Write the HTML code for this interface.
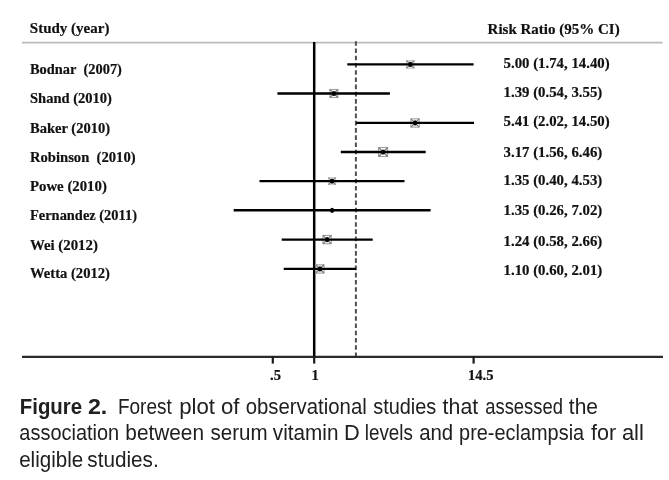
<!DOCTYPE html>
<html>
<head>
<meta charset="utf-8">
<style>
html,body{margin:0;padding:0;background:#fff;}
body{width:669px;height:480px;overflow:hidden;position:relative;}
svg{position:absolute;left:0;top:0;filter:grayscale(1);}
.t{font-family:"Liberation Serif",serif;font-weight:bold;font-size:14.8px;fill:#111;stroke:#111;stroke-width:0.2px;}
.h{font-size:15px;}
.ax{font-size:14.6px;}
.cap{font-family:"Liberation Sans",sans-serif;font-size:21.5px;fill:#202024;}
</style>
</head>
<body>
<svg width="669" height="480" viewBox="0 0 669 480">
<text class="t h" x="29.8" y="32.9">Study (year)</text>
<text class="t h" x="487.6" y="34">Risk Ratio (95% CI)</text>
<line x1="22" y1="42.6" x2="662.5" y2="42.6" stroke="#bababa" stroke-width="1.7"/>
<line x1="314.2" y1="42" x2="314.2" y2="357" stroke="#000" stroke-width="2.5"/>
<line x1="355.9" y1="41.2" x2="355.9" y2="356" stroke="#505050" stroke-width="2" stroke-dasharray="4.6 2.637"/>
<line x1="22" y1="356.8" x2="663" y2="356.8" stroke="#2a2a2a" stroke-width="2.2"/>
<g stroke="#1a1a1a" stroke-width="2.2">
<line x1="272.8" y1="356" x2="272.8" y2="363.6"/>
<line x1="314.2" y1="356" x2="314.2" y2="363.6"/>
<line x1="473.6" y1="356" x2="473.6" y2="363.6"/>
</g>
<text class="t ax" x="270" y="380.3">.5</text>
<text class="t ax" x="311.5" y="380.3">1</text>
<text class="t ax" x="468" y="380.3">14.5</text>
<g fill="none" stroke="#7a7a7a" stroke-width="1.2">
<rect x="406.6" y="60.7" width="7.5" height="7.5" stroke="#c0c0c0" stroke-width="1.1"/>
<path d="M406.6 60.7L414.1 68.2M414.1 60.7L406.6 68.2"/>
<rect x="329.9" y="89.5" width="8.0" height="8.0" stroke="#a0a0a0" stroke-width="1.1"/>
<path d="M329.9 89.5L337.9 97.5M337.9 89.5L329.9 97.5"/>
<rect x="410.9" y="118.8" width="8.3" height="8.3" stroke="#a0a0a0" stroke-width="1.1"/>
<path d="M410.9 118.8L419.2 127.1M419.2 118.8L410.9 127.1"/>
<rect x="378.6" y="147.5" width="9.0" height="9.0" stroke="#a0a0a0" stroke-width="1.1"/>
<path d="M378.6 147.5L387.6 156.5M387.6 147.5L378.6 156.5"/>
<rect x="328.6" y="177.6" width="7.0" height="7.0" stroke="#d0d0d0" stroke-width="1.1"/>
<path d="M328.6 177.6L335.6 184.6M335.6 177.6L328.6 184.6"/>
<rect x="322.9" y="235.4" width="8.3" height="8.3" stroke="#a0a0a0" stroke-width="1.1"/>
<path d="M322.9 235.4L331.2 243.8M331.2 235.4L322.9 243.8"/>
<rect x="315.7" y="264.8" width="8.3" height="8.3" stroke="#a0a0a0" stroke-width="1.1"/>
<path d="M315.7 264.8L324.0 273.0M324.0 264.8L315.7 273.0"/>
</g>
<g stroke="#000" stroke-width="2.4">
<line x1="347.3" y1="64.4" x2="473.6" y2="64.4"/>
<line x1="277.4" y1="93.5" x2="389.9" y2="93.5"/>
<line x1="356.2" y1="122.9" x2="474.0" y2="122.9"/>
<line x1="340.8" y1="152.0" x2="425.7" y2="152.0"/>
<line x1="259.5" y1="181.1" x2="404.5" y2="181.1"/>
<line x1="233.7" y1="210.3" x2="430.6" y2="210.3"/>
<line x1="281.7" y1="239.6" x2="372.7" y2="239.6"/>
<line x1="283.7" y1="268.9" x2="355.9" y2="268.9"/>
</g>
<g fill="#000">
<ellipse cx="410.4" cy="64.4" rx="2.1" ry="2.6"/>
<ellipse cx="333.9" cy="93.5" rx="2.1" ry="2.6"/>
<ellipse cx="415.1" cy="122.9" rx="2.1" ry="2.6"/>
<ellipse cx="383.1" cy="152.0" rx="2.1" ry="2.6"/>
<ellipse cx="332.1" cy="181.1" rx="2.1" ry="2.6"/>
<ellipse cx="332.1" cy="210.3" rx="2.1" ry="2.6"/>
<ellipse cx="327.1" cy="239.6" rx="2.1" ry="2.6"/>
<ellipse cx="319.9" cy="268.9" rx="2.1" ry="2.6"/>
</g>
<text class="t" transform="translate(30 73.9) scale(0.975 1)" xml:space="preserve">Bodnar  (2007)</text>
<text class="t" transform="translate(30 103.1) scale(0.983 1)">Shand (2010)</text>
<text class="t" transform="translate(30 132.9) scale(0.983 1)">Baker (2010)</text>
<text class="t" transform="translate(30 161.7) scale(0.988 1)" xml:space="preserve">Robinson  (2010)</text>
<text class="t" transform="translate(30 191.1) scale(1.0 1)">Powe (2010)</text>
<text class="t" transform="translate(30 220.3) scale(0.975 1)">Fernandez (2011)</text>
<text class="t" transform="translate(30 249.5) scale(1.0 1)">Wei (2012)</text>
<text class="t" transform="translate(30 277.9) scale(0.988 1)">Wetta (2012)</text>
<text class="t" x="503.6" y="68.2">5.00 (1.74, 14.40)</text>
<text class="t" x="503.6" y="96.5">1.39 (0.54, 3.55)</text>
<text class="t" x="503.6" y="125.9">5.41 (2.02, 14.50)</text>
<text class="t" x="503.6" y="156.7">3.17 (1.56, 6.46)</text>
<text class="t" x="503.6" y="185.0">1.35 (0.40, 4.53)</text>
<text class="t" x="503.6" y="214.7">1.35 (0.26, 7.02)</text>
<text class="t" x="503.6" y="246.0">1.24 (0.58, 2.66)</text>
<text class="t" x="503.6" y="275.2">1.10 (0.60, 2.01)</text>
<g class="cap">
<text transform="translate(19.75 414.0) scale(0.95 1)" font-weight="bold">Figure</text>
<text transform="translate(87.92 414.0) scale(1.08 1)" font-weight="bold">2.</text>
<text transform="translate(117.93 414.0) scale(0.8831 1)">Forest</text>
<text transform="translate(179.17 414.0) scale(1.0333 1)">plot</text>
<text transform="translate(220.97 414.0) scale(1.0294 1)">of</text>
<text transform="translate(245.65 414.0) scale(0.9472 1)">observational</text>
<text transform="translate(373.17 414.0) scale(0.9273 1)">studies</text>
<text transform="translate(442.6 414.0) scale(0.9917 1)">that</text>
<text transform="translate(485.24 414.0) scale(0.8557 1)">assessed</text>
<text transform="translate(568.8 414.0) scale(0.9759 1)">the</text>
<text transform="translate(19.37 439.7) scale(0.9286 1)">association</text>
<text transform="translate(125.33 439.7) scale(0.9684 1)">between</text>
<text transform="translate(210.44 439.7) scale(0.9561 1)">serum</text>
<text transform="translate(272.8 439.7) scale(0.9642 1)">vitamin</text>
<text transform="translate(344.07 439.7) scale(1.0167 1)">D</text>
<text transform="translate(364.82 439.7) scale(0.8755 1)">levels</text>
<text transform="translate(419.15 439.7) scale(0.95 1)">and</text>
<text transform="translate(459.07 439.7) scale(0.9269 1)">pre-eclampsia</text>
<text transform="translate(591.0 439.7) scale(1.004 1)">for</text>
<text transform="translate(621.88 439.7) scale(1.0211 1)">all</text>
<text transform="translate(19.14 466.6) scale(0.9569 1)">eligible</text>
<text transform="translate(87.34 466.6) scale(0.9634 1)">studies.</text>
</g>
</svg>

</body>
</html>
